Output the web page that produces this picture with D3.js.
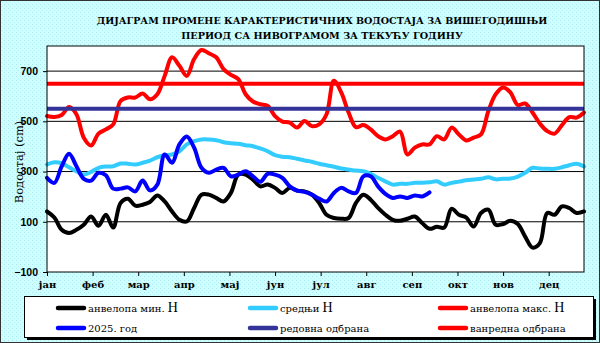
<!DOCTYPE html>
<html>
<head>
<meta charset="utf-8">
<script src="https://cdn.jsdelivr.net/npm/d3@7/dist/d3.min.js"></script>
<style>
  html, body { margin: 0; padding: 0; background: #ccffff; }
  svg { display: block; }
  .axis path { display: none; }
  .axis line { stroke: #000; }
</style>
</head>
<body>
<div id="chart"></div>
<script>
// Month labels, one every 31 days on the category axis
var months = ["јан", "феб", "мар", "апр", "мај", "јун", "јул", "авг", "сеп", "окт", "нов", "дец"];
var yTicks = [-100, 100, 300, 500, 700];
var titleLines = ["ДИЈАГРАМ ПРОМЕНЕ КАРАКТЕРИСТИЧНИХ ВОДОСТАЈА ЗА ВИШЕГОДИШЊИ",
                  "ПЕРИОД СА НИВОГРАМОМ ЗА ТЕКУЋУ ГОДИНУ"];

// Water levels (cm), sampled every 5 days from day 0
var minH = [141, 117, 68, 55, 68, 88, 121, 84, 128, 77, 175, 192, 164, 168, 179, 205, 181, 141, 108, 101,
            155, 208, 208, 195, 181, 215, 288, 288, 268, 241, 248, 235, 215, 235, 224, 221, 208, 175, 128, 115,
            112, 115, 175, 208, 188, 155, 128, 108, 104, 112, 121, 95, 72, 80, 77, 152, 128, 117, 81, 135,
            148, 88, 91, 104, 91, 41, -3, 15, 135, 128, 161, 155, 135, 141];
var meanH = [328, 337, 333, 317, 301, 288, 299, 315, 320, 321, 332, 331, 328, 335, 344, 357, 365, 368, 381, 408,
             421, 428, 428, 425, 417, 413, 411, 405, 401, 392, 381, 365, 359, 357, 351, 344, 339, 331, 325, 319,
             312, 308, 304, 301, 291, 275, 261, 248, 251, 251, 255, 255, 257, 261, 248, 255, 260, 265, 268, 271,
             277, 269, 271, 272, 280, 295, 315, 312, 311, 311, 317, 325, 331, 320];
var maxH = [521, 517, 525, 557, 528, 435, 404, 451, 468, 488, 581, 595, 595, 611, 588, 608, 681, 755, 721, 681,
            748, 784, 771, 755, 708, 685, 668, 608, 579, 568, 561, 521, 499, 495, 475, 501, 481, 488, 528, 662,
            615, 535, 477, 485, 468, 441, 428, 441, 459, 368, 395, 408, 408, 441, 428, 475, 448, 424, 435, 448,
            541, 608, 635, 615, 565, 571, 535, 491, 461, 451, 485, 517, 515, 535];
var year2025 = [275, 255, 321, 371, 321, 271, 264, 295, 285, 232, 232, 237, 221, 264, 225, 248, 368, 335, 408, 440,
                395, 315, 295, 308, 315, 281, 288, 301, 281, 259, 291, 288, 275, 241, 224, 219, 208, 192, 181, 215,
                235, 221, 215, 281, 281, 241, 211, 195, 201, 195, 205, 201, 217];
var regularDefence = 550;
var emergencyDefence = 650;

var SERIF = "'DejaVu Serif', 'Liberation Serif', serif";
var SANS = "'Liberation Sans', Arial, sans-serif";

var W = 600, H = 343;
var margin = {top: 46, right: 16, bottom: 71, left: 47};
var width = W - margin.left - margin.right;
var height = H - margin.top - margin.bottom;

var svg = d3.select("#chart").append("svg")
    .attr("width", W)
    .attr("height", H);

// speckled cyan background
var pat = svg.append("defs").append("pattern")
    .attr("id", "dots")
    .attr("width", 4).attr("height", 4)
    .attr("patternUnits", "userSpaceOnUse");
pat.append("rect").attr("width", 4).attr("height", 4).attr("fill", "#ccffff");
pat.append("rect").attr("x", 0).attr("y", 0).attr("width", 1).attr("height", 1).attr("fill", "#aee6ee");
pat.append("rect").attr("x", 2).attr("y", 2).attr("width", 1).attr("height", 1).attr("fill", "#b8eef4");
pat.append("rect").attr("x", 3).attr("y", 1).attr("width", 1).attr("height", 1).attr("fill", "#e6ffff");

svg.append("rect")
    .attr("x", 0.5).attr("y", 0.5)
    .attr("width", W - 1).attr("height", H - 1)
    .attr("fill", "url(#dots)")
    .attr("stroke", "#333")
    .attr("stroke-width", 1);

// Title: each line shrunk to fit its width
var titleWidths = [451, 282];
svg.selectAll(".title")
    .data(titleLines)
    .enter().append("text")
    .attr("class", "title")
    .attr("font-family", SERIF)
    .attr("text-anchor", "middle")
    .attr("font-weight", "bold")
    .attr("font-size", "11px")
    .attr("fill", "#000")
    .attr("x", 322)
    .attr("y", function (d, i) { return 24 + i * 15; })
    .text(function (d) { return d; })
    .each(function (d, i) {
        var len = this.getComputedTextLength();
        if (len > 0) d3.select(this).attr("font-size", (11 * titleWidths[i] / len).toFixed(2) + "px");
    });

var g = svg.append("g")
    .attr("transform", "translate(" + margin.left + "," + margin.top + ")");

var x = d3.scaleLinear().domain([0, 365]).range([0, width]);
var y = d3.scaleLinear().domain([-100, 800]).range([height, 0]);

g.append("rect")
    .attr("width", width).attr("height", height)
    .attr("fill", "#fff");

// horizontal gridlines
g.selectAll(".grid")
    .data(yTicks.filter(function (d) { return d > -100; }))
    .enter().append("line")
    .attr("class", "grid")
    .attr("x1", 0).attr("x2", width)
    .attr("y1", function (d) { return y(d); })
    .attr("y2", function (d) { return y(d); })
    .attr("stroke", "#000")
    .attr("stroke-width", 1);

var xAxis = d3.axisBottom(x)
    .tickValues(months.map(function (m, i) { return i * 31; }))
    .tickFormat(function (d, i) { return months[i]; })
    .tickSize(4)
    .tickPadding(5);

g.append("g")
    .attr("class", "axis x")
    .attr("transform", "translate(0," + height + ")")
    .call(xAxis)
    .attr("font-family", SERIF)
    .selectAll("text")
    .attr("font-size", "10px")
    .attr("font-weight", "bold")
    .attr("fill", "#000");

var yAxis = d3.axisLeft(y)
    .tickValues(yTicks)
    .tickSize(4)
    .tickPadding(5);

g.append("g")
    .attr("class", "axis y")
    .call(yAxis)
    .attr("font-family", SANS)
    .selectAll("text")
    .attr("font-size", "10.5px")
    .attr("font-weight", "bold")
    .attr("fill", "#000");

svg.append("text")
    .attr("font-family", SERIF)
    .attr("transform", "translate(23," + 162 + ") rotate(-90)")
    .attr("text-anchor", "middle")
    .attr("font-size", "11.5px")
    .attr("fill", "#000")
    .text("Водостај (cm)");

var line = d3.line()
    .x(function (d, i) { return x(i * 5); })
    .y(function (d) { return y(d); })
    .curve(d3.curveCatmullRom.alpha(0.5));

var series = [
    {values: minH, color: "#000000"},
    {values: meanH, color: "#33ccff"},
    {values: maxH, color: "#ff0000"},
    {values: year2025, color: "#0000ff"}
];

g.selectAll(".series")
    .data(series)
    .enter().append("path")
    .attr("class", "series")
    .attr("d", function (d) { return line(d.values); })
    .attr("fill", "none")
    .attr("stroke", function (d) { return d.color; })
    .attr("stroke-width", 4)
    .attr("stroke-linejoin", "round")
    .attr("stroke-linecap", "round");

// defence levels
g.selectAll(".level")
    .data([{v: regularDefence, color: "#333399"}, {v: emergencyDefence, color: "#ff0000"}])
    .enter().append("line")
    .attr("class", "level")
    .attr("x1", 0).attr("x2", width)
    .attr("y1", function (d) { return y(d.v); })
    .attr("y2", function (d) { return y(d.v); })
    .attr("stroke", function (d) { return d.color; })
    .attr("stroke-width", 4);

g.append("rect")
    .attr("width", width).attr("height", height)
    .attr("fill", "none")
    .attr("stroke", "#000")
    .attr("stroke-width", 1);

// Legend
var lg = svg.append("g").attr("class", "legend");
lg.append("rect")
    .attr("x", 27).attr("y", 299).attr("width", 569).attr("height", 41)
    .attr("fill", "#000");
lg.append("rect")
    .attr("x", 24.5).attr("y", 296.5).attr("width", 569).attr("height", 41)
    .attr("fill", "#fff").attr("stroke", "#000");

var legendItems = [
    {label: "анвелопа мин. ", big: "H", color: "#000000", col: 0, row: 0},
    {label: "средњи ", big: "H", color: "#33ccff", col: 1, row: 0},
    {label: "анвелопа макс. ", big: "H", color: "#ff0000", col: 2, row: 0},
    {label: "2025. год", big: "", color: "#0000ff", col: 0, row: 1},
    {label: "редовна одбрана", big: "", color: "#333399", col: 1, row: 1},
    {label: "ванредна одбрана", big: "", color: "#ff0000", col: 2, row: 1}
];
var colX = [58, 250, 440];
var rowY = [308, 328];

var item = lg.selectAll(".item")
    .data(legendItems)
    .enter().append("g")
    .attr("class", "item")
    .attr("transform", function (d) { return "translate(" + colX[d.col] + "," + rowY[d.row] + ")"; });

item.append("line")
    .attr("x1", 0).attr("x2", 26)
    .attr("stroke", function (d) { return d.color; })
    .attr("stroke-width", 4.5)
    .attr("stroke-linecap", "round");

var lt = item.append("text")
    .attr("font-family", SERIF)
    .attr("x", 30).attr("y", 4)
    .attr("font-size", "10px")
    .attr("fill", "#000");
lt.append("tspan").text(function (d) { return d.label; });
lt.append("tspan").attr("font-family", "'Liberation Serif', serif")
    .attr("font-size", "14px").text(function (d) { return d.big; });
</script>
</body>
</html>
